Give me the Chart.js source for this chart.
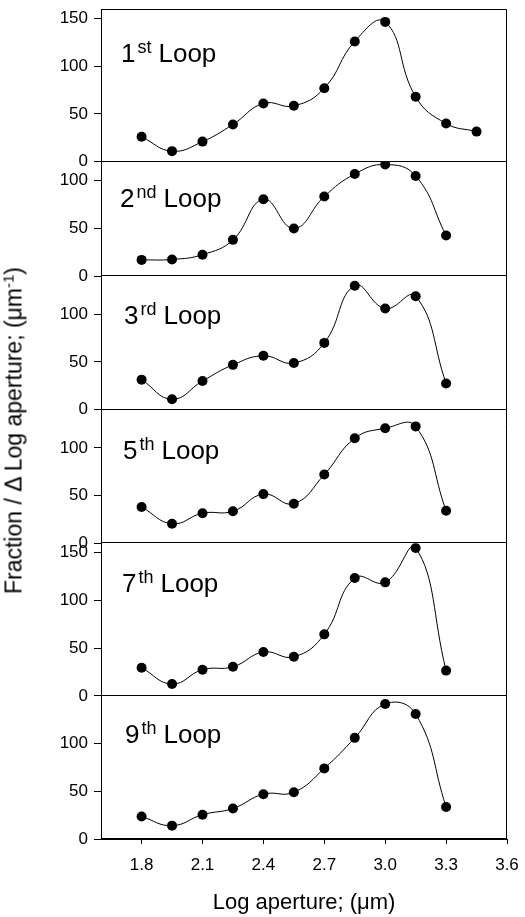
<!DOCTYPE html>
<html>
<head>
<meta charset="utf-8">
<script src="https://cdn.jsdelivr.net/npm/chart.js@4.4.1/dist/chart.umd.min.js"></script>
<style>
body { margin: 0; background: #fff; }
#wrap { position: relative; width: 525px; height: 917px; }
#chart { position: absolute; left: 0; top: 0; }
.loop { position: absolute; font: 26px "Liberation Sans", Arial, sans-serif; line-height: 26px; white-space: nowrap; color: #000; }
.loop sup { font-size: 18px; position: relative; top: -9px; vertical-align: baseline; margin: 0 7px 0 2px; }
#ytitle { position: absolute; left: -187px; top: 418px; width: 400px; height: 25px; line-height: 25px; text-align: center;
  font: 23px "Liberation Sans", Arial, sans-serif; transform: rotate(-90deg); white-space: nowrap; color: #000; }
#ytitle sup { font-size: 15px; position: relative; top: -8px; vertical-align: baseline; }
</style>
</head>
<body>
<div id="wrap">
  <canvas id="chart" width="525" height="917"></canvas>
  <div class="loop" style="left:121px; top:40px">1<sup>st</sup>Loop</div>
  <div class="loop" style="left:120px; top:185px">2<sup>nd</sup>Loop</div>
  <div class="loop" style="left:124px; top:302px">3<sup>rd</sup>Loop</div>
  <div class="loop" style="left:123px; top:437px">5<sup>th</sup>Loop</div>
  <div class="loop" style="left:122px; top:570px">7<sup>th</sup>Loop</div>
  <div class="loop" style="left:125px; top:721px">9<sup>th</sup>Loop</div>
  <div id="ytitle">Fraction / &Delta; Log aperture; (&mu;m<sup>-1</sup>)</div>
</div>
<script>
// data
const logAperture = [1.8, 1.95, 2.1, 2.25, 2.4, 2.55, 2.7, 2.85, 3.0, 3.15, 3.3, 3.45];
const loop1 = [26, 11, 21, 39, 61, 58.5, 77, 126, 146.5, 68, 40, 31.5];
const loop2 = [17, 17.5, 22.5, 38, 80.5, 50, 83.5, 107, 117, 105, 42.5];
const loop3 = [31.5, 11, 30, 47, 56.5, 49, 70, 130, 106, 119, 27.5];
const loop5 = [38, 20.5, 31.5, 33.5, 51.5, 41.5, 72, 110, 120.5, 122.5, 34];
const loop7 = [29.5, 12.5, 27.5, 30.5, 46, 41, 64.5, 123.5, 119, 155, 26.5];
const loop9 = [23.5, 14, 25.5, 32, 47, 49, 74, 106, 141.5, 131, 33.5];
const panelMax = [160, 120, 140, 140, 160, 150];
const yTicks = [0, 50, 100, 150];
const xTicks = [1.8, 2.1, 2.4, 2.7, 3.0, 3.3, 3.6];

// panels listed bottom to top (left stacked axes are laid out last-first)
const panels = [
  { id: 'y9', values: loop9, max: panelMax[5] },
  { id: 'y7', values: loop7, max: panelMax[4] },
  { id: 'y5', values: loop5, max: panelMax[3] },
  { id: 'y3', values: loop3, max: panelMax[2] },
  { id: 'y2', values: loop2, max: panelMax[1] },
  { id: 'y1', values: loop1, max: panelMax[0] }
];

const family = '"Liberation Sans", Arial, sans-serif';
const tickFont = { family: family, size: 17 };

const scales = {
  x: {
    type: 'linear',
    min: 1.6,
    max: 3.6,
    afterBuildTicks: s => { s.ticks = xTicks.map(v => ({ value: v })); },
    afterFit: s => { s.height = 78; s.paddingLeft = 0; s.paddingRight = 0; },
    ticks: { color: '#000', font: tickFont, padding: 11, maxRotation: 0, callback: v => v.toFixed(1) },
    grid: { drawOnChartArea: false, drawTicks: true, tickLength: 5, tickColor: '#000' },
    border: { color: '#000' },
    title: { display: true, text: 'Log aperture; (\u03bcm)', color: '#000',
      font: { family: family, size: 22 }, padding: { top: 2, bottom: 1 } }
  }
};

panels.forEach(p => {
  scales[p.id] = {
    type: 'linear',
    position: 'left',
    stack: 'loops',
    stackWeight: p.max,
    min: 0,
    max: p.max,
    afterBuildTicks: s => { s.ticks = yTicks.filter(v => v < p.max).map(v => ({ value: v })); },
    afterFit: s => { s.width = 101; s.paddingTop = 0; s.paddingBottom = 0; },
    ticks: { color: '#000', font: tickFont, padding: 6 },
    grid: { drawOnChartArea: false, drawTicks: true, tickLength: 7, tickColor: '#000' },
    border: { color: '#000' }
  };
});

const frame = {
  id: 'frame',
  beforeDatasetsDraw(chart) {
    const ctx = chart.ctx;
    const a = chart.chartArea;
    ctx.save();
    ctx.strokeStyle = '#000';
    ctx.lineWidth = 1;
    ctx.beginPath();
    const r = Math.round(a.right) - 0.5;
    const t = Math.round(a.top) + 0.5;
    ctx.moveTo(Math.round(a.left), t);
    ctx.lineTo(r, t);
    ctx.lineTo(r, Math.round(a.bottom));
    panels.forEach(p => {
      const y = Math.round(chart.scales[p.id].getPixelForValue(0)) - 0.5;
      ctx.moveTo(Math.round(a.left), y);
      ctx.lineTo(r, y);
    });
    ctx.stroke();
    ctx.restore();
  }
};

new Chart(document.getElementById('chart'), {
  type: 'line',
  data: {
    datasets: panels.map(p => ({
      yAxisID: p.id,
      data: p.values.map((v, i) => ({ x: logAperture[i], y: v })),
      borderColor: '#000',
      borderWidth: 1,
      backgroundColor: '#000',
      pointRadius: 5,
      pointBorderWidth: 0,
      tension: 0.45,
      fill: false
    }))
  },
  options: {
    responsive: false,
    animation: false,
    devicePixelRatio: 1,
    layout: { padding: { top: 9, right: 18, left: 0, bottom: 0 } },
    plugins: { legend: { display: false }, tooltip: { enabled: false } },
    scales: scales
  },
  plugins: [frame]
});
</script>
</body>
</html>
